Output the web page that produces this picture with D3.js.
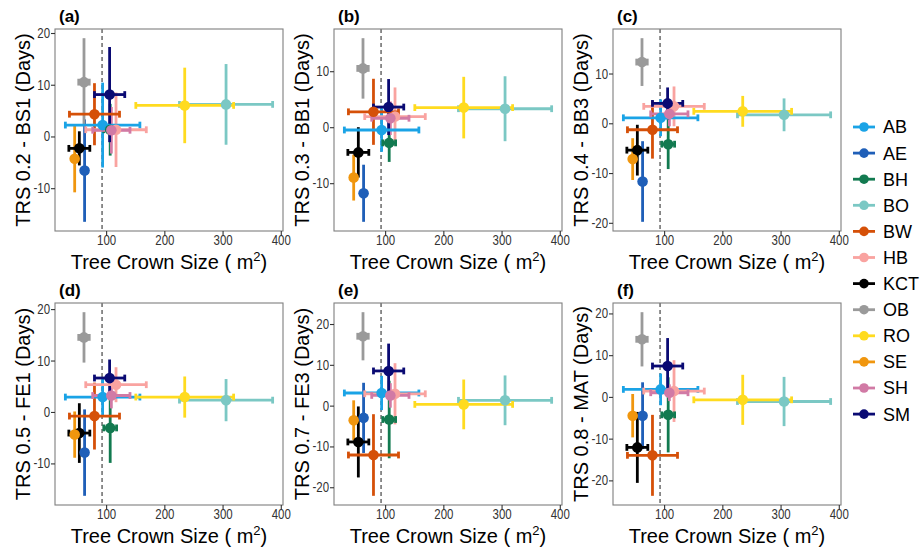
<!DOCTYPE html>
<html>

<head>
  <meta charset="utf-8">
  <title>TRS vs Tree Crown Size</title>
  <style>
    body {
      margin: 0;
      background: #ffffff;
    }

    text {
      font-family: "Liberation Sans", Arial, sans-serif;
    }
  </style>
</head>

<body>
  <svg></svg>
  <script src="https://cdnjs.cloudflare.com/ajax/libs/d3/7.8.5/d3.min.js"></script>
  <script>
    // sites, in legend order
    var sites = ["AB", "AE", "BH", "BO", "BW", "HB", "KCT", "OB", "RO", "SE", "SH", "SM"];
    var siteColors = ["#1AA3E6", "#1F5FB8", "#127A50", "#7BC8C4", "#D55008", "#F9A3A0",
      "#000000", "#9A9A9A", "#FFDB1F", "#F0960E", "#D17AA5", "#0A0A73"];

    // tree crown size (m2), mean and error
    var crownSize = [94, 63, 107, 306, 80, 117, 54, 62, 235, 46, 109, 106];
    var crownSizeErr = [64, 4, 11, 80, 43, 52, 18, 9, 84, 4, 32, 26];
    var crownRef = 93;

    // TRS days per phenophase, mean and error
    var bs1Mean = [2.2, -6.6, 1.3, 6.2, 4.3, 1.3, -2.3, 10.5, 6.0, -4.3, 1.2, 8.1];
    var bs1Err = [8.2, 9.9, 5.0, 7.8, 6.0, 7.2, 3.3, 8.5, 7.3, 6.5, 4.5, 9.2];
    var bb1Mean = [-0.5, -11.8, -2.8, 3.3, 2.75, 1.9, -4.5, 10.5, 3.5, -9.0, 1.6, 3.6];
    var bb1Err = [3.9, 5.1, 3.4, 5.8, 5.9, 5.2, 4.5, 5.4, 5.5, 4.1, 3.0, 5.0];
    var bb3Mean = [1.1, -11.7, -4.2, 1.7, -1.3, 3.4, -5.4, 12.3, 2.4, -7.2, 1.9, 4.0];
    var bb3Err = [3.7, 8.1, 5.0, 3.3, 5.8, 4.0, 5.1, 4.8, 3.1, 4.2, 2.5, 3.2];
    var fe1Mean = [2.9, -7.9, -3.1, 2.3, -0.8, 5.3, -4.1, 14.5, 2.9, -4.4, 3.2, 6.6];
    var fe1Err = [3.7, 8.4, 6.8, 4.1, 6.5, 3.4, 5.8, 4.9, 4.0, 4.5, 2.5, 3.6];
    var fe3Mean = [3.1, -3.0, -3.4, 1.3, -12.1, 2.9, -8.9, 17.0, 0.3, -3.6, 2.5, 8.5];
    var fe3Err = [4.2, 8.6, 9.5, 6.1, 10.0, 7.5, 8.7, 5.9, 6.1, 4.9, 3.0, 6.7];
    var matMean = [1.8, -4.5, -4.3, -1.1, -14.0, 1.4, -12.1, 13.8, -0.7, -4.5, 1.0, 7.4];
    var matErr = [3.8, 8.0, 9.0, 5.9, 9.7, 7.4, 8.5, 6.5, 6.0, 5.2, 2.0, 6.7];

    var panelTags = ["(a)", "(b)", "(c)", "(d)", "(e)", "(f)"];
    var panelTitles = ["TRS 0.2 - BS1 (Days)", "TRS 0.3 - BB1 (Days)", "TRS 0.4 - BB3 (Days)",
      "TRS 0.5 - FE1 (Days)", "TRS 0.7 - FE3 (Days)", "TRS 0.8 - MAT (Days)"];
    var panelMeans = [bs1Mean, bb1Mean, bb3Mean, fe1Mean, fe3Mean, matMean];
    var panelErrs = [bs1Err, bb1Err, bb3Err, fe1Err, fe3Err, matErr];
    var xTicks = [100, 200, 300, 400];

    var width = 920,
      height = 549;
    var colLeft = [55, 334, 613],
      rowTop = [29, 303];
    var pw = 228,
      ph = 202;

    var svg = d3.select("svg").attr("width", width).attr("height", height);

    // ggplot-like 5% expansion
    function expand(ext) {
      var pad = (ext[1] - ext[0]) * 0.05;
      return [ext[0] - pad, ext[1] + pad];
    }

    var xLo = d3.min(crownSize, (d, i) => d - crownSizeErr[i]);
    var xHi = d3.max(crownSize, (d, i) => d + crownSizeErr[i]);
    var xDomain = expand([xLo, xHi]);

    panelTitles.forEach(function (title, p) {
      var left = colLeft[p % 3],
        top = rowTop[Math.floor(p / 3)];
      var means = panelMeans[p],
        errs = panelErrs[p];

      var rows = sites.map(function (s, i) {
        return { site: s, color: siteColors[i], x: crownSize[i], xe: crownSizeErr[i], y: means[i], ye: errs[i] };
      });

      var yDomain = expand([d3.min(rows, d => d.y - d.ye), d3.max(rows, d => d.y + d.ye)]);
      var x = d3.scaleLinear().domain(xDomain).range([0, pw]);
      var y = d3.scaleLinear().domain(yDomain).range([ph, 0]);
      var yTicks = d3.range(Math.ceil(yDomain[0] / 10) * 10, yDomain[1], 10);

      var g = svg.append("g").attr("transform", "translate(" + left + "," + top + ")");

      var plot = g.append("g");

      plot.append("line")
        .attr("x1", x(crownRef)).attr("x2", x(crownRef))
        .attr("y1", 0).attr("y2", ph)
        .style("stroke", "#333333")
        .style("stroke-width", 1.1)
        .style("stroke-dasharray", "4,3");

      // vertical error bars
      plot.selectAll(".vbar").data(rows)
        .enter()
        .append("line")
        .attr("class", "vbar")
        .attr("x1", d => x(d.x)).attr("x2", d => x(d.x))
        .attr("y1", d => y(d.y - d.ye)).attr("y2", d => y(d.y + d.ye))
        .style("stroke", d => d.color)
        .style("stroke-width", 2.8);

      // horizontal error bars with caps
      var hb = plot.selectAll(".hbar").data(rows)
        .enter()
        .append("g")
        .attr("class", "hbar")
        .style("stroke", d => d.color)
        .style("stroke-width", 2.8);
      hb.append("line")
        .attr("x1", d => x(d.x - d.xe)).attr("x2", d => x(d.x + d.xe))
        .attr("y1", d => y(d.y)).attr("y2", d => y(d.y));
      hb.append("line")
        .attr("x1", d => x(d.x - d.xe)).attr("x2", d => x(d.x - d.xe))
        .attr("y1", d => y(d.y) - 3.4).attr("y2", d => y(d.y) + 3.4);
      hb.append("line")
        .attr("x1", d => x(d.x + d.xe)).attr("x2", d => x(d.x + d.xe))
        .attr("y1", d => y(d.y) - 3.4).attr("y2", d => y(d.y) + 3.4);

      plot.selectAll("circle").data(rows)
        .enter()
        .append("circle")
        .attr("cx", d => x(d.x))
        .attr("cy", d => y(d.y))
        .attr("r", 5.3)
        .style("fill", d => d.color);

      g.append("rect")
        .attr("width", pw).attr("height", ph)
        .style("fill", "none")
        .style("stroke", "#7f7f7f")
        .style("stroke-width", 1.1);

      var xAxis = g.append("g")
        .attr("transform", "translate(0," + ph + ")")
        .call(d3.axisBottom(x).tickValues(xTicks).tickSize(4).tickPadding(0).tickFormat(d => String(d)));
      var yAxis = g.append("g")
        .call(d3.axisLeft(y).tickValues(yTicks).tickSize(4).tickPadding(2).tickFormat(d => String(d)));

      // tick labels in the reference are a bit narrow
      [xAxis, yAxis].forEach(function (a) {
        a.select(".domain").remove();
        a.selectAll("line").style("stroke", "#333333").style("stroke-width", 1.1);
        a.selectAll("text")
          .attr("transform", "scale(0.82,1)")
          .style("font-size", "14px")
          .style("fill", "#333333")
          .style("font-family", "'Liberation Sans', Arial, sans-serif");
      });

      g.append("text")
        .attr("x", 4).attr("y", -7)
        .text(panelTags[p])
        .style("font-size", "17px")
        .style("font-weight", "bold");

      g.append("text")
        .attr("transform", "translate(-32," + (ph / 2) + ") rotate(-90)")
        .attr("text-anchor", "middle")
        .attr("dy", "0.35em")
        .text(title)
        .style("font-size", "20px");

      var xt = g.append("text")
        .attr("x", pw / 2).attr("y", ph + 38)
        .attr("text-anchor", "middle")
        .style("font-size", "20px");
      xt.append("tspan").text("Tree Crown Size ( m");
      xt.append("tspan").attr("dy", -8).style("font-size", "13px").text("2");
      xt.append("tspan").attr("dy", 8).text(")");
    });

    // legend
    var legend = svg.append("g").attr("transform", "translate(853,127)");
    var item = legend.selectAll("g").data(sites)
      .enter()
      .append("g")
      .attr("transform", (d, i) => "translate(0," + i * 26.1 + ")");
    item.append("line")
      .attr("x1", 0).attr("x2", 22)
      .style("stroke", (d, i) => siteColors[i])
      .style("stroke-width", 2.8);
    item.append("circle")
      .attr("cx", 11).attr("r", 4.8)
      .style("fill", (d, i) => siteColors[i]);
    item.append("text")
      .attr("x", 30).attr("dy", "0.36em")
      .text(d => d)
      .style("font-size", "18px");
  </script>
</body>

</html>
